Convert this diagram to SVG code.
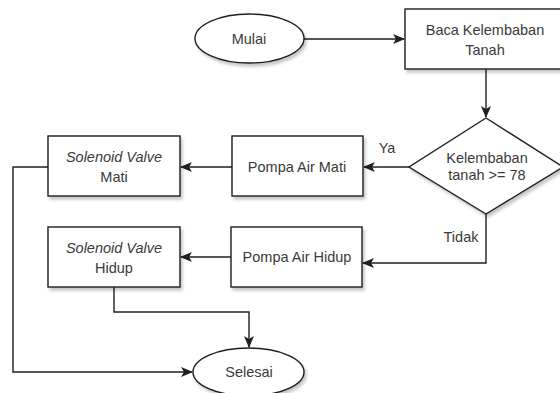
<svg xmlns="http://www.w3.org/2000/svg" width="560" height="393" viewBox="0 0 560 393">
  <style>
    .shape { fill: #ffffff; stroke: #1f1f1f; stroke-width: 1.4; filter: url(#shadow); }
    .edge { fill: none; stroke: #1f1f1f; stroke-width: 1.4; marker-end: url(#arrow); }
    text { font-family: "Liberation Sans", Arial, sans-serif; font-size: 14.5px; fill: #3a3a3a; text-anchor: middle; }
    .it { font-style: italic; }
  </style>
  <defs>
    <filter id="shadow" x="-10%" y="-10%" width="125%" height="130%">
      <feDropShadow dx="2" dy="3" stdDeviation="1.5" flood-color="#000" flood-opacity="0.22"/>
    </filter>
    <marker id="arrow" viewBox="0 0 12 10" refX="11" refY="5" markerWidth="12" markerHeight="10" markerUnits="userSpaceOnUse" orient="auto">
      <path d="M0,0 L12,5 L0,10 L3,5 Z" fill="#1f1f1f"/>
    </marker>
  </defs>

  <g id="connectors">
    <path class="edge" d="M304,39 L404,39"/>
    <path class="edge" d="M486,69 L486,117"/>
    <path class="edge" d="M409,167 L364,167"/>
    <path class="edge" d="M232,167 L181,167"/>
    <path class="edge" d="M486,214 L486,263 L363,263"/>
    <path class="edge" d="M231,257 L181,257"/>
    <path class="edge" d="M114,287 L114,312 L249,312 L249,347"/>
    <path class="edge" d="M48,167 L13,167 L13,372 L192,372"/>
  </g>

  <g id="mulai">
    <ellipse class="shape" cx="249.5" cy="38.5" rx="54.5" ry="24.5"/>
    <text x="249" y="44">Mulai</text>
  </g>

  <g id="baca">
    <rect class="shape" x="405" y="9" width="162" height="60"/>
    <text x="485" y="35">Baca Kelembaban</text>
    <text x="485" y="55">Tanah</text>
  </g>

  <g id="cek-kelembaban">
    <polygon class="shape" points="486,118 563,167 486,214 409,167"/>
    <text x="487" y="163">Kelembaban</text>
    <text x="487" y="180">tanah &gt;= 78</text>
  </g>

  <g id="label-ya">
    <text x="387" y="153">Ya</text>
  </g>

  <g id="label-tidak">
    <text x="461" y="242">Tidak</text>
  </g>

  <g id="pompa-mati">
    <rect class="shape" x="232" y="136" width="131" height="60"/>
    <text x="297" y="172">Pompa Air Mati</text>
  </g>

  <g id="solenoid-mati">
    <rect class="shape" x="48" y="136" width="132" height="60"/>
    <text class="it" x="114" y="162">Solenoid Valve</text>
    <text x="114" y="182">Mati</text>
  </g>

  <g id="pompa-hidup">
    <rect class="shape" x="231" y="227" width="131" height="60"/>
    <text x="297" y="262">Pompa Air Hidup</text>
  </g>

  <g id="solenoid-hidup">
    <rect class="shape" x="48" y="227" width="132" height="60"/>
    <text class="it" x="114" y="253">Solenoid Valve</text>
    <text x="114" y="273">Hidup</text>
  </g>

  <g id="selesai">
    <ellipse class="shape" cx="248.5" cy="372" rx="55.5" ry="24"/>
    <text x="249" y="377">Selesai</text>
  </g>
</svg>
